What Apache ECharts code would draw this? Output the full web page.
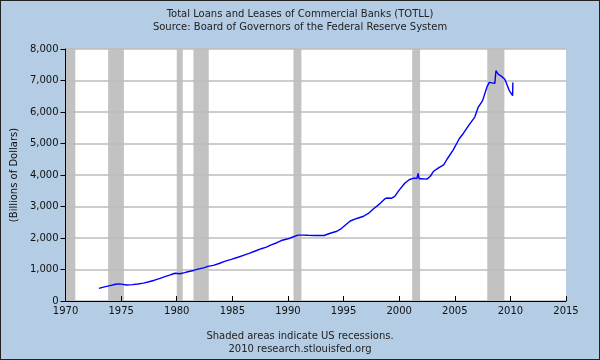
<!DOCTYPE html>
<html><head><meta charset="utf-8">
<script src="https://cdn.jsdelivr.net/npm/echarts@6/dist/echarts.min.js"></script>
<style>html,body{margin:0;padding:0;background:#b4cce4;}#c{width:600px;height:360px;box-sizing:border-box;border:1px solid #222;}</style>
</head><body><div id="c"></div>
<script>
const years = [1973.0,1973.5,1974.0,1974.5,1974.8,1975.0,1975.5,1976.0,1976.5,1977.0,1977.5,1978.0,1978.5,1979.0,1979.5,1979.85,1980.3,1980.7,1981.0,1981.5,1982.0,1982.5,1982.8,1983.3,1983.8,1984.3,1984.9,1985.5,1986.0,1986.5,1987.0,1987.6,1988.0,1988.5,1989.0,1989.4,1990.0,1990.5,1990.9,1991.3,1991.8,1992.4,1993.25,1993.8,1994.4,1994.8,1995.3,1995.6,1996.2,1996.8,1997.3,1997.7,1998.3,1998.7,1998.9,1999.3,1999.6,2000.0,2000.5,2000.9,2001.3,2001.6,2001.7,2001.8,2002.0,2002.5,2002.8,2003.1,2003.5,2004.0,2004.3,2004.85,2005.4,2005.75,2006.3,2006.8,2007.1,2007.5,2007.9,2008.1,2008.6,2008.7,2008.9,2009.2,2009.5,2009.9,2010.2,2010.22];
const loans = [400,450,490,530,545,535,510,520,540,567,610,660,720,780,840,880,865,900,930,970,1020,1060,1100,1130,1190,1260,1320,1390,1450,1510,1580,1660,1700,1780,1850,1920,1975,2040,2090,2090,2085,2080,2080,2150,2215,2300,2450,2540,2620,2690,2800,2930,3100,3240,3270,3260,3320,3520,3740,3850,3900,3890,4050,3880,3880,3870,3960,4120,4220,4320,4500,4790,5150,5310,5600,5840,6150,6360,6800,6940,6910,7310,7200,7130,7040,6680,6520,6940];
const recessions = [[1969.92,1970.88],[1973.83,1975.25],[1980.0,1980.54],[1981.5,1982.88],[1990.5,1991.21],[2001.17,2001.88],[2007.92,2009.46]];
const xTicks = [1970,1975,1980,1985,1990,1995,2000,2005,2010,2015];
const yTicks = [0,1000,2000,3000,4000,5000,6000,7000,8000];

const font = 'DejaVu Sans';
const chart = echarts.init(document.getElementById('c'));
chart.setOption({
  backgroundColor: '#b4cce4',
  animation: false,
  title: [
    {text: 'Total Loans and Leases of Commercial Banks (TOTLL)\nSource: Board of Governors of the Federal Reserve System',
     left: 'center', top: 2, textStyle: {fontFamily: font, fontSize: 10, fontWeight: 'normal', color: '#222', lineHeight: 13}},
    {text: 'Shaded areas indicate US recessions.\n2010 research.stlouisfed.org',
     left: 'center', top: 324, textStyle: {fontFamily: font, fontSize: 10, fontWeight: 'normal', color: '#222', lineHeight: 13}}
  ],
  grid: {left: 63, right: 33, top: 48, bottom: 58, show: true, backgroundColor: '#fff', borderWidth: 0},
  xAxis: {
    type: 'value', min: xTicks[0], max: xTicks[xTicks.length-1], interval: 5, z: 3,
    axisLine: {lineStyle: {color: '#000', width: 1}},
    axisTick: {inside: true, length: 5, lineStyle: {color: '#000'}},
    axisLabel: {fontFamily: font, fontSize: 10, color: '#111', margin: 5, formatter: v => String(v)},
    splitLine: {show: false}
  },
  yAxis: {
    type: 'value', min: yTicks[0], max: yTicks[yTicks.length-1], interval: 1000, z: 3,
    name: '(Billions of Dollars)', nameLocation: 'middle', nameGap: 38,
    nameTextStyle: {fontFamily: font, fontSize: 10, color: '#111'},
    axisLine: {show: true, lineStyle: {color: '#000', width: 1}},
    axisTick: {show: true, length: 5, lineStyle: {color: '#000'}},
    axisLabel: {fontFamily: font, fontSize: 10, color: '#111', margin: 7,
      formatter: v => v.toLocaleString('en-US')},
    splitLine: {show: true, lineStyle: {color: '#bdbdbd', width: 1.5}}
  },
  series: [{
    type: 'line', data: [], z: 1, silent: true,
    markArea: {silent: true, z: 1, itemStyle: {color: '#c2c2c2'},
      data: recessions.map(r => [{xAxis: r[0]}, {xAxis: r[1]}])}
  },{
    type: 'line', data: years.map((y, i) => [y, loans[i]]),
    showSymbol: false, lineStyle: {color: '#0000ff', width: 1.4}, itemStyle: {color: '#0000ff'},
    z: 5
  }]
});
</script></body></html>
